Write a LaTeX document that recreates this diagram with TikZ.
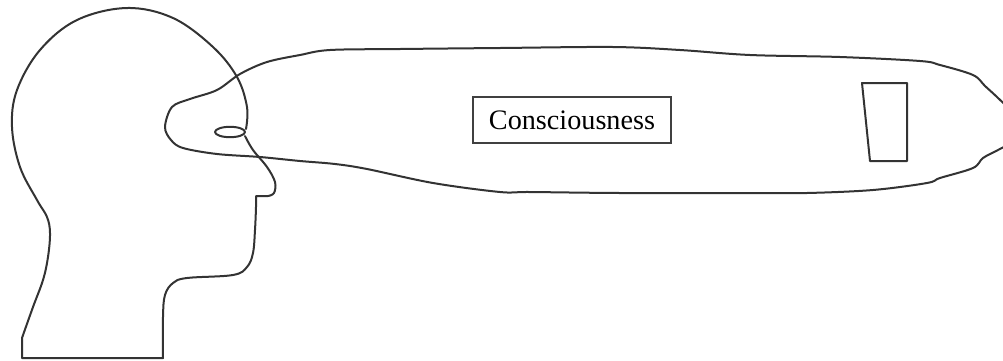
\documentclass[tikz,border=0pt]{standalone}
\usepackage{fontspec}
\setmainfont{Liberation Serif}

\tikzset{
  outline/.style={draw=black!80,line width=1pt,line join=round,line cap=round},
  labelbox/.style={draw=black!75,line width=0.9pt,minimum width=99pt,minimum height=23pt,
    inner sep=0pt,font=\fontsize{14.1}{16}\selectfont}
}

\begin{document}
\begin{tikzpicture}[x=0.5pt,y=-0.5pt]
\useasboundingbox (0,0) rectangle (1003,360);

% the stream going out of the eye
\begin{scope}
  \clip (0,0) rectangle (1003,360);
  \draw[outline] plot[smooth cycle,tension=0.55] coordinates {
    (165,127) (172,107) (190,99) (217,90) (240,74) (267,62) (300,55) (330,50)
    (400,49) (500,48) (613,47) (680,50) (750,55) (840,57) (920,61) (940,65)
    (973,75) (985,86) (997,97) (1012,112) (1024,128) (1012,142) (998,150)
    (983,158) (973,168) (940,178) (927,183)
    (873,190) (807,193) (747,193) (620,193) (530,192) (500,192) (433,183)
    (367,169) (335,164) (300,161) (260,157) (217,154) (183,148) (171,140)};
\end{scope}

% head
\draw[outline] (163,358) -- (22,358) -- plot[smooth,tension=0.6] coordinates {
  (22,338) (33,307) (43,280) (48,257) (50,233) (47,217) (37,200) (20,167)
  (12,127) (17,90) (40,50) (77,20) (127,8) (173,18) (213,47) (237,77)
  (247,107) (246,129)};
\draw[outline] (230,132) ellipse [x radius=7.5pt,y radius=2.6pt];
\draw[outline] plot[smooth,tension=0.6] coordinates {
  (245,136) (253,150) (267,167) (275,182) (274,193) (268,196)}
  -- (256,196) -- plot[smooth,tension=0.6] coordinates {
  (256,197) (256,207) (255,230) (253,253) (247,267) (233,275) (187,278)
  (173,283) (165,295) (163,317) (163,358)};

\node[labelbox] (consc) at (572,120) {Consciousness};

\draw[outline] (862,83) -- (907,83) -- (907,161) -- (870,161) -- cycle;
\end{tikzpicture}
\end{document}
